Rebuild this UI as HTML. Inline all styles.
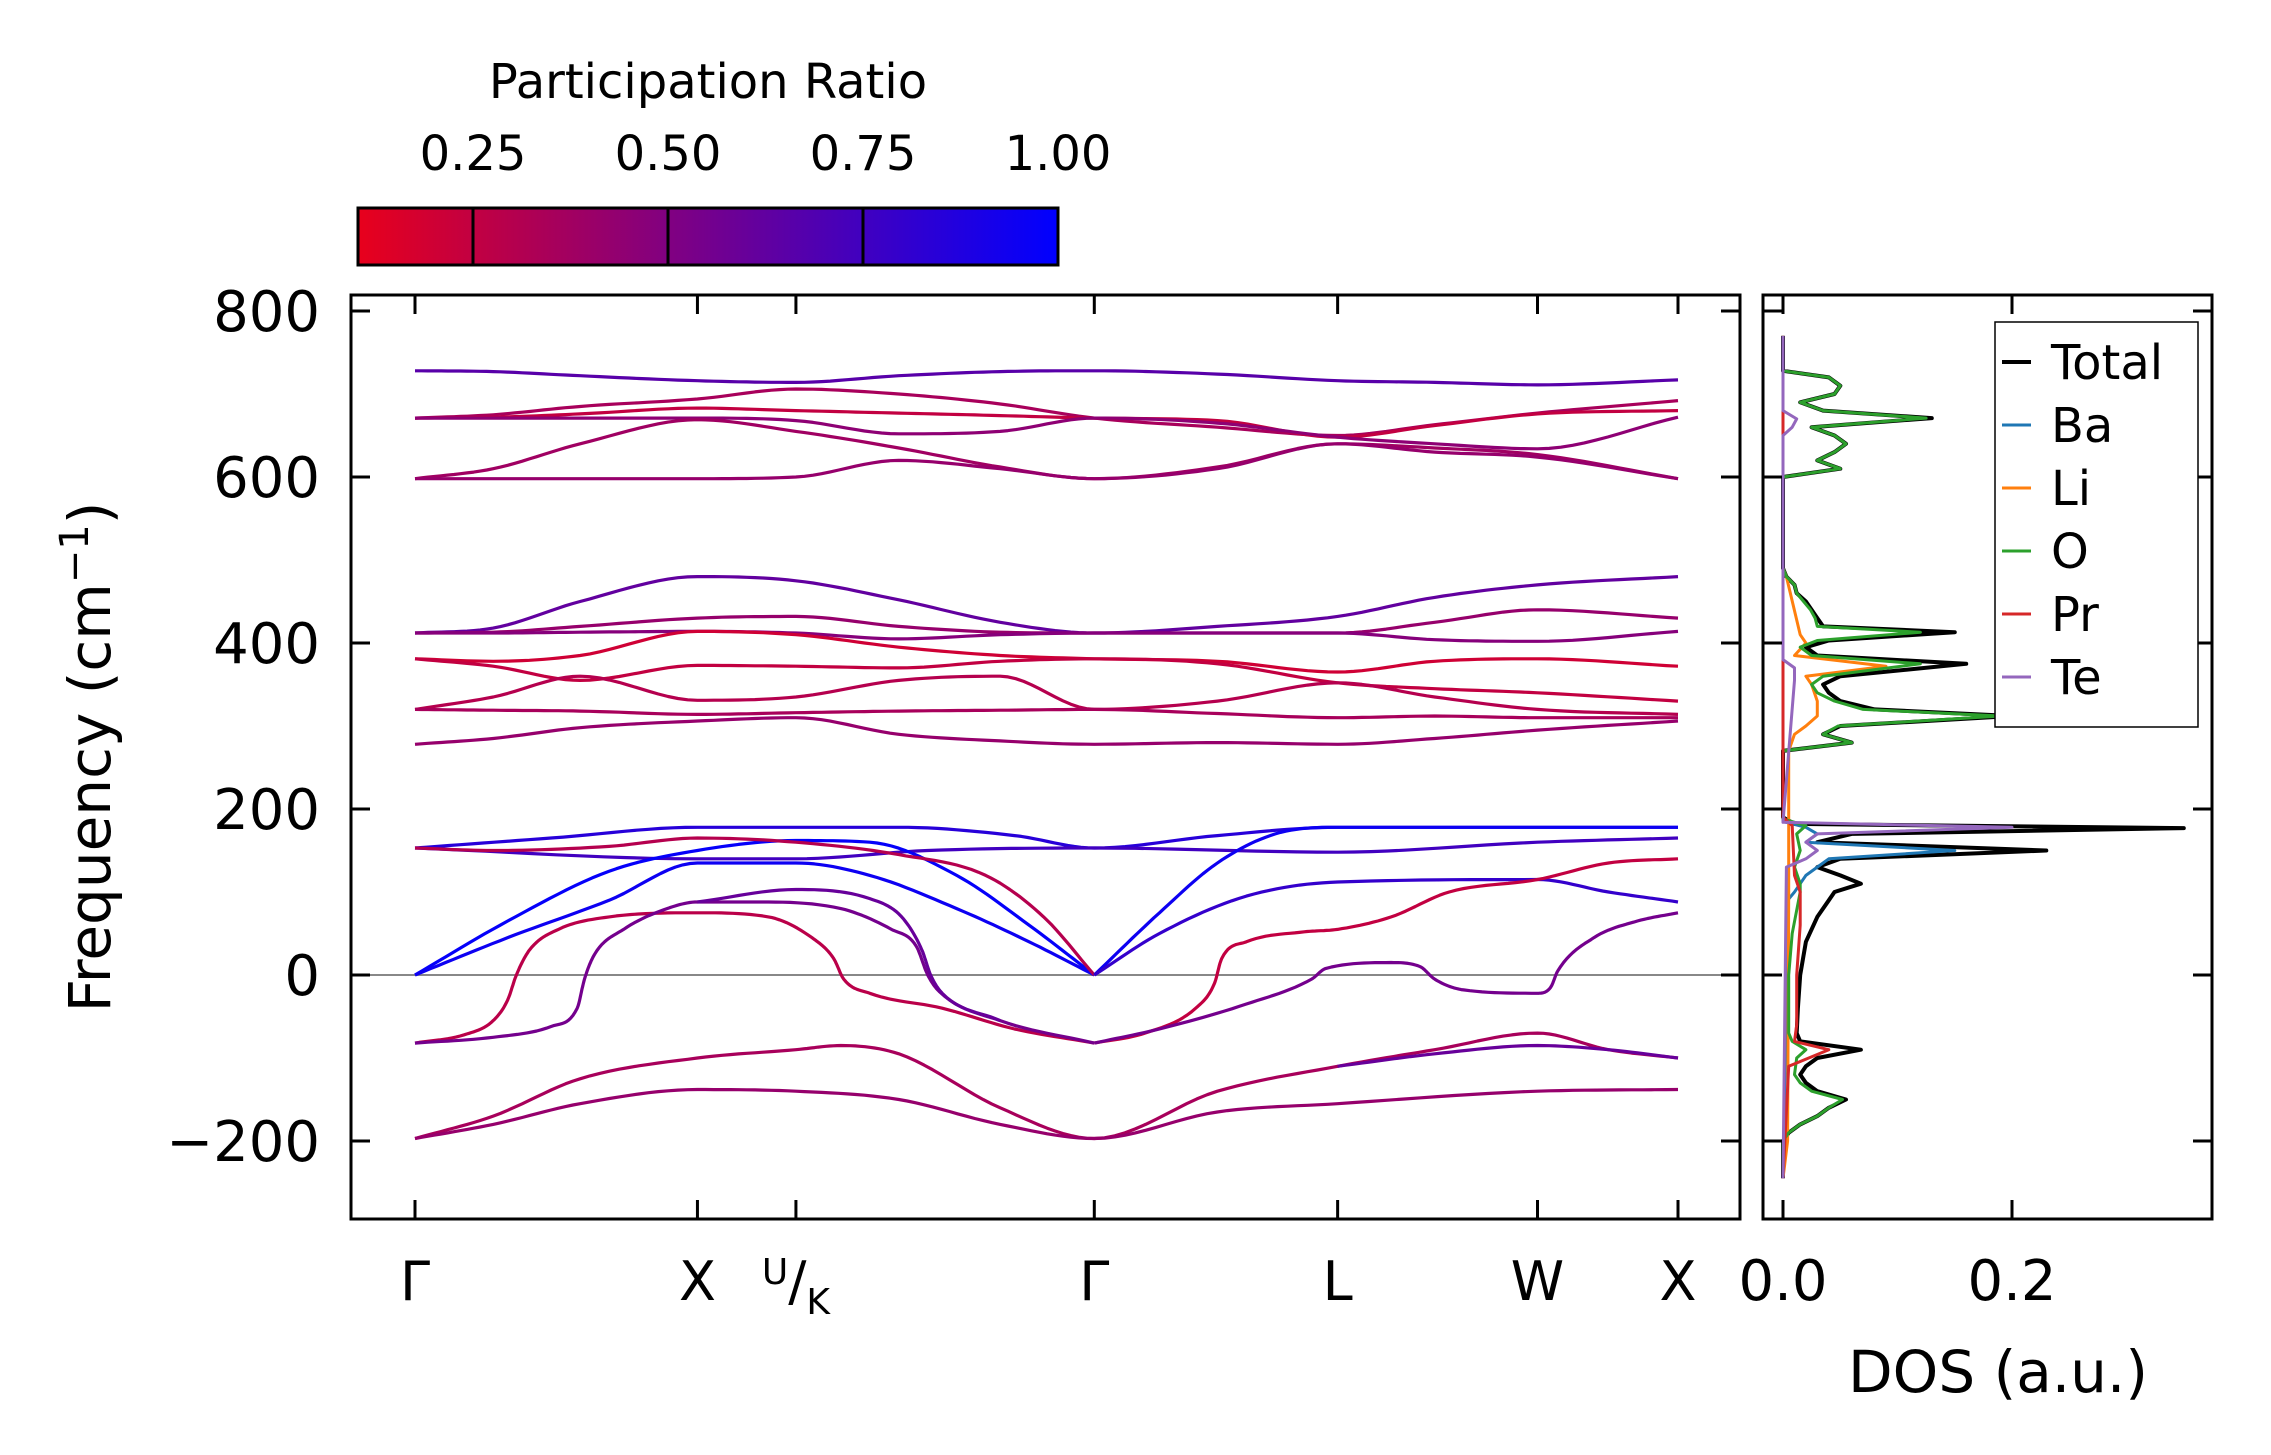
<!DOCTYPE html>
<html><head><meta charset="utf-8"><style>
html,body{margin:0;padding:0;background:#fff;}
svg{display:block;font-family:"DejaVu Sans","Liberation Sans",sans-serif;}
</style></head><body>
<svg id="fig" width="2271" height="1455" viewBox="0 0 2271 1455" xmlns="http://www.w3.org/2000/svg">
<defs>
<linearGradient id="cmap" x1="0" x2="1" y1="0" y2="0">
<stop offset="0" stop-color="rgb(232,0,28)"/><stop offset="1" stop-color="rgb(0,0,255)"/>
</linearGradient>
<clipPath id="clipMain"><rect x="351" y="295" width="1389" height="924"/></clipPath>
<clipPath id="clipDos"><rect x="1763" y="295" width="449" height="924"/></clipPath>
</defs>
<g>
<text x="708" y="98" font-size="48" text-anchor="middle">Participation Ratio</text>
<rect x="358" y="208" width="700" height="57" fill="url(#cmap)" stroke="#000" stroke-width="3"/>
<g id="cbticks"></g>
</g>
<g id="main">
<line id="zeroline" x1="351" x2="1740" stroke="#888" stroke-width="2"/>
<g id="bands" clip-path="url(#clipMain)"></g>
<rect x="351" y="295" width="1389" height="924" fill="none" stroke="#000" stroke-width="3"/>
<g id="mainticks"></g>
<text transform="translate(110,757) rotate(-90)" font-size="58" text-anchor="middle">Frequency (cm<tspan dy="-22" font-size="40">−1</tspan><tspan dy="22">)</tspan></text>
</g>
<g id="dos">
<g id="dosLines" clip-path="url(#clipDos)"></g>
<rect x="1763" y="295" width="449" height="924" fill="none" stroke="#000" stroke-width="3"/>
<g id="dosticks"></g>
<text x="1998" y="1392" font-size="58" text-anchor="middle">DOS (a.u.)</text>
<g>
<rect x="1995" y="322" width="203" height="405" fill="#fff" stroke="#000" stroke-width="1.5"/>
<g id="legendItems"></g>
</g>
</g>
</svg>
<script>
// ---------- data ----------
const kTickLabels = ["Γ","X","U/K","Γ","L","W","X"];
const kTickPos = [0,195,263,469,637,775,872];
const yTicks = [800,600,400,200,0,-200];
const cbTicks = [0.25,0.50,0.75,1.00];
const dosTicks = [0.0,0.2];

const bandKcoarse = [0,54,114,195,263,334,404,469,554,637,704,775,872];
const bandT1 = [728,727,722,716,714,722,727,728,724,716,714,711,717];
const bandT2 = [671,675,685,694,706,700,688,671,660,650,663,677,692];
const bandT3 = [671,672,676,683,680,677,674,671,668,648,662,676,680];
const bandT4 = [671,671,671,671,668,652,655,671,665,648,640,634,672];
const bandT5 = [598,610,640,669,655,635,612,598,612,640,635,627,598];
const bandT6 = [598,598,598,598,600,620,610,598,610,640,630,624,598];
const bandM1 = [412,418,450,480,475,452,425,412,420,432,455,470,480];
const bandM2 = [412,413,420,430,432,420,413,412,412,412,425,440,430];
const bandM3 = [412,412,413,414,412,405,410,412,412,412,404,402,414];
const bandM4 = [381,378,385,414,410,395,385,381,378,365,378,381,372];
const bandM5 = [381,372,355,373,372,370,378,381,375,352,345,340,330];
const bandM6 = [320,335,360,331,335,355,360,320,330,352,335,320,314];
const bandM7 = [320,319,318,314,316,318,319,320,315,310,312,310,310];
const bandM8 = [278,285,298,306,310,290,282,278,280,278,285,295,306];
const coarseBands = [bandT1,bandT2,bandT3,bandT4,bandT5,bandT6,bandM1,bandM2,bandM3,bandM4,bandM5,bandM6,bandM7,bandM8];
const coarsePR = [0.66,0.35,0.25,0.45,0.38,0.42,0.62,0.42,0.48,0.2,0.25,0.3,0.35,0.42];

const bandL1 = [[0,153],[94,165],[195,178],[334,178],[414,168],[469,153],[554,168],[637,178],[872,178]];
const bandL2 = [[0,153],[195,140],[263,140],[354,150],[469,153],[637,148],[775,160],[872,165]];
const bandL3 = [[0,0],[64,65],[134,125],[195,150],[263,162],[314,160],[374,120],[424,60],[469,0]];
const bandL4 = [[0,0],[64,45],[134,90],[195,135],[263,135],[314,120],[374,80],[424,40],[469,0]];
const bandL5 = [[0,153],[54,150],[134,155],[195,165],[263,160],[334,145],[394,120],[434,70],[469,0]];
const bandR1 = [[469,0],[514,75],[554,135],[594,170],[637,178],[872,178]];
const bandR2 = [[469,0],[514,50],[574,95],[637,112],[775,115],[824,100],[872,88]];
const bandR3 = [[469,-82],[504,-70],[539,-40],[552,-10],[557,20],[574,40],[614,52],[637,55],[674,70],[714,100],[775,115],[824,135],[872,140]];
const bandR4 = [[469,-82],[514,-65],[574,-35],[619,-5],[629,8],[674,15],[694,10],[704,-5],[724,-18],[775,-22],[784,-15],[789,5],[814,45],[844,65],[872,75]];
const bandA5 = [[0,-82],[34,-72],[54,-55],[64,-30],[70,0],[79,30],[99,55],[134,70],[195,75],[244,70],[274,45],[289,20],[296,-5],[314,-22],[364,-40],[414,-65],[469,-82]];
const bandA6 = [[0,-82],[54,-75],[94,-62],[112,-40],[117,-5],[124,25],[144,55],[174,80],[195,88],[234,88],[294,80],[329,55],[346,35],[354,0],[362,-20],[404,-55],[469,-82]];
const bandA7 = [[195,88],[263,103],[314,92],[336,70],[350,30],[356,0],[364,-22],[404,-55]];
const bandN1 = [[0,-197],[54,-170],[114,-125],[195,-100],[263,-90],[294,-85],[334,-95],[404,-160],[469,-197],[554,-140],[637,-110],[704,-90],[775,-70],[824,-90],[872,-100]];
const bandN2 = [[0,-197],[54,-180],[114,-155],[195,-138],[263,-140],[334,-150],[404,-180],[469,-197],[554,-165],[637,-155],[775,-140],[872,-138]];
const bandN3 = [[637,-110],[704,-95],[775,-85],[824,-90],[872,-100]];
const pointBands = [bandL1,bandL2,bandL3,bandL4,bandL5,bandR1,bandR2,bandR3,bandR4,bandA5,bandA6,bandA7,bandN1,bandN2,bandN3];
const pointPR = [0.85,0.75,0.98,0.95,0.3,0.95,0.8,0.25,0.55,0.28,0.55,0.6,0.35,0.42,0.6];

const dosTotal = [[-245,0],[-200,0],[-190,0.005],[-180,0.015],[-170,0.03],[-160,0.04],[-150,0.055],[-140,0.03],[-130,0.02],[-120,0.015],[-110,0.02],[-100,0.03],[-90,0.068],[-80,0.015],[-70,0.012],[-40,0.013],[0,0.015],[40,0.02],[70,0.03],[90,0.04],[100,0.045],[110,0.068],[120,0.05],[130,0.03],[140,0.05],[150,0.23],[160,0.03],[170,0.06],[177,0.35],[182,0.01],[190,0],[270,0],[280,0.06],[290,0.035],[300,0.05],[312,0.2],[320,0.08],[330,0.05],[340,0.04],[350,0.035],[360,0.05],[375,0.16],[385,0.03],[395,0.02],[403,0.04],[413,0.15],[420,0.035],[430,0.03],[440,0.025],[450,0.02],[460,0.012],[470,0.01],[480,0.003],[490,0],[600,0],[610,0.05],[620,0.03],[630,0.045],[640,0.055],[650,0.045],[660,0.025],[671,0.13],[680,0.035],[690,0.015],[700,0.045],[710,0.05],[720,0.04],[728,0],[770,0]];
const dosBa = [[-245,0],[-100,0.002],[90,0.004],[100,0.01],[110,0.015],[120,0.02],[130,0.03],[140,0.04],[150,0.15],[160,0.02],[170,0.03],[178,0.02],[185,0],[770,0]];
const dosLi = [[-245,0],[-200,0.004],[100,0.005],[270,0.005],[290,0.01],[300,0.02],[312,0.03],[330,0.03],[350,0.025],[360,0.02],[372,0.09],[385,0.01],[400,0.02],[410,0.015],[480,0.003],[490,0],[770,0]];
const dosO = [[-245,0],[-200,0],[-190,0.005],[-180,0.015],[-170,0.03],[-160,0.04],[-150,0.052],[-140,0.025],[-130,0.015],[-120,0.01],[-100,0.012],[-90,0.02],[-80,0.008],[-70,0.005],[0,0.005],[50,0.008],[100,0.015],[110,0.015],[130,0.01],[150,0.015],[170,0.012],[180,0.02],[188,0],[270,0],[280,0.06],[290,0.035],[300,0.048],[312,0.19],[320,0.07],[330,0.045],[340,0.03],[350,0.025],[360,0.035],[375,0.12],[385,0.025],[395,0.015],[403,0.03],[413,0.12],[420,0.03],[430,0.028],[440,0.024],[450,0.018],[460,0.012],[470,0.01],[480,0.003],[490,0],[600,0],[610,0.05],[620,0.03],[630,0.045],[640,0.055],[650,0.045],[660,0.025],[671,0.125],[680,0.035],[690,0.015],[700,0.045],[710,0.05],[720,0.04],[728,0],[770,0]];
const dosPr = [[-245,0],[-110,0.005],[-90,0.04],[-80,0.01],[-60,0.012],[0,0.012],[60,0.015],[100,0.015],[120,0.01],[180,0.008],[190,0],[770,0]];
const dosTe = [[-245,0],[130,0.003],[140,0.02],[150,0.03],[160,0.02],[170,0.03],[178,0.2],[184,0],[355,0.01],[370,0.01],[380,0],[650,0],[660,0.008],[670,0.012],[680,0],[770,0]];
const dosSeries = [dosTotal,dosBa,dosLi,dosO,dosPr,dosTe];
const dosNames = ["Total","Ba","Li","O","Pr","Te"];
const dosColors = ["#000000","#1f77b4","#ff7f0e","#2ca02c","#d62728","#9467bd"];
const dosWidths = [4,3,3,3,3,3];

// ---------- scales ----------
const NS = "http://www.w3.org/2000/svg";
const xK = k => 415 + k*1.4484;
const yF = f => 975 - f*0.83;
const xCb = p => 473 + (p-0.25)*780;
const xDos = v => 1783 + v*1145;
function prColor(p){
  let t = (p-0.1026)/0.8974; t=Math.max(0,Math.min(1,t));
  return `rgb(${Math.round(232*(1-t))},0,${Math.round(28+227*t)})`;
}
function mk(tag, attrs, parent){
  const e=document.createElementNS(NS,tag);
  for(const a in attrs) e.setAttribute(a,attrs[a]);
  parent.appendChild(e); return e;
}
function smooth(pts){
  const n=pts.length, xs=pts.map(p=>p[0]), ys=pts.map(p=>p[1]);
  if(n<3) return pts;
  const d=[],m=[];
  for(let i=0;i<n-1;i++) d.push((ys[i+1]-ys[i])/(xs[i+1]-xs[i]));
  m[0]=d[0]; m[n-1]=d[n-2];
  for(let i=1;i<n-1;i++) m[i]=(d[i-1]*d[i]<=0)?0:(d[i-1]+d[i])/2;
  for(let i=0;i<n-1;i++){ if(d[i]===0){m[i]=0;m[i+1]=0;continue;}
    const a=m[i]/d[i], b=m[i+1]/d[i], s=a*a+b*b;
    if(s>9){const t=3/Math.sqrt(s); m[i]=t*a*d[i]; m[i+1]=t*b*d[i];} }
  const out=[];
  for(let i=0;i<n-1;i++){
    const h=xs[i+1]-xs[i];
    for(let j=0;j<12;j++){
      const t=j/12, h00=2*t*t*t-3*t*t+1, h10=t*t*t-2*t*t+t, h01=-2*t*t*t+3*t*t, h11=t*t*t-t*t;
      out.push([xs[i]+t*h, h00*ys[i]+h10*h*m[i]+h01*ys[i+1]+h11*h*m[i+1]]);
    }
  }
  out.push([xs[n-1],ys[n-1]]);
  return out;
}
// ---------- main panel ----------
const zl=document.getElementById('zeroline');
zl.setAttribute('y1',yF(0)); zl.setAttribute('y2',yF(0));
const bandsG=document.getElementById('bands');
function drawBand(pts,pr,idx){
  const s=smooth(pts);
  const pl=mk('polyline',{points:s.map(p=>xK(p[0]).toFixed(1)+','+yF(p[1]).toFixed(1)).join(' '),fill:'none',stroke:prColor(pr),'stroke-width':3.2,'stroke-linejoin':'round'},bandsG);
  
  
}
let bi=0;
coarseBands.forEach((b,i)=>{ drawBand(b.map((f,j)=>[bandKcoarse[j],f]),coarsePR[i],bi++); });
pointBands.forEach((b,i)=>{ drawBand(b,pointPR[i],bi++); });

const mt=document.getElementById('mainticks');
yTicks.forEach(v=>{
  const y=yF(v);
  let e=mk('line',{x1:351,x2:370,y1:y,y2:y,stroke:'#000','stroke-width':3},mt);
   
  e=mk('line',{x1:1721,x2:1740,y1:y,y2:y,stroke:'#000','stroke-width':3},mt);
   
  const t=mk('text',{x:320,y:y+20,'font-size':56,'text-anchor':'end'},mt);
  t.textContent=v<0?'−'+Math.abs(v):String(v);
   
});
kTickPos.forEach((k,i)=>{
  const x=xK(k);
  let e=mk('line',{x1:x,x2:x,y1:295,y2:314,stroke:'#000','stroke-width':3},mt);
   
  e=mk('line',{x1:x,x2:x,y1:1200,y2:1219,stroke:'#000','stroke-width':3},mt);
   
  const lab=kTickLabels[i];
  if(lab==='U/K'){
    const t=mk('text',{x:x,y:1300,'font-size':54,'text-anchor':'middle'},mt);
    t.innerHTML='<tspan font-size="36" dy="-16">U</tspan><tspan dy="16">/</tspan><tspan font-size="36" dy="14">K</tspan>';
     
  } else {
    const t=mk('text',{x:x,y:1300,'font-size':54,'text-anchor':'middle'},mt);
    t.textContent=lab;
     
  }
});
// ---------- colorbar ----------
const cbt=document.getElementById('cbticks');
cbTicks.forEach(v=>{
  const x=xCb(v);
  let e=mk('line',{x1:x,x2:x,y1:208,y2:265,stroke:'#000','stroke-width':3},cbt);
   
  const t=mk('text',{x:x,y:170,'font-size':48,'text-anchor':'middle'},cbt);
  t.textContent=v.toFixed(2);
   
});
// ---------- DOS ----------
const dl=document.getElementById('dosLines');
dosSeries.forEach((s,i)=>{
  const pts=s.slice().sort((a,b)=>a[0]-b[0]);
  const pl=mk('polyline',{points:pts.map(p=>xDos(p[1]).toFixed(1)+','+yF(p[0]).toFixed(1)).join(' '),fill:'none',stroke:dosColors[i],'stroke-width':dosWidths[i],'stroke-linejoin':'round'},dl);
  
  
});
const dt=document.getElementById('dosticks');
yTicks.forEach(v=>{
  const y=yF(v);
  let e=mk('line',{x1:1763,x2:1782,y1:y,y2:y,stroke:'#000','stroke-width':3},dt);
   
  e=mk('line',{x1:2193,x2:2212,y1:y,y2:y,stroke:'#000','stroke-width':3},dt);
   
});
dosTicks.forEach(v=>{
  const x=xDos(v);
  let e=mk('line',{x1:x,x2:x,y1:295,y2:314,stroke:'#000','stroke-width':3},dt);
   
  e=mk('line',{x1:x,x2:x,y1:1200,y2:1219,stroke:'#000','stroke-width':3},dt);
   
  const t=mk('text',{x:x,y:1300,'font-size':56,'text-anchor':'middle'},dt);
  t.textContent=v.toFixed(1);
   
});
const lg=document.getElementById('legendItems');
dosNames.forEach((n,i)=>{
  const y=362+i*63;
  let e=mk('line',{x1:2002,x2:2031,y1:y,y2:y,stroke:dosColors[i],'stroke-width':dosWidths[i]},lg);
   
  const t=mk('text',{x:2051,y:y+17,'font-size':48},lg);
  t.textContent=n;
   
});
</script>
</body></html>
